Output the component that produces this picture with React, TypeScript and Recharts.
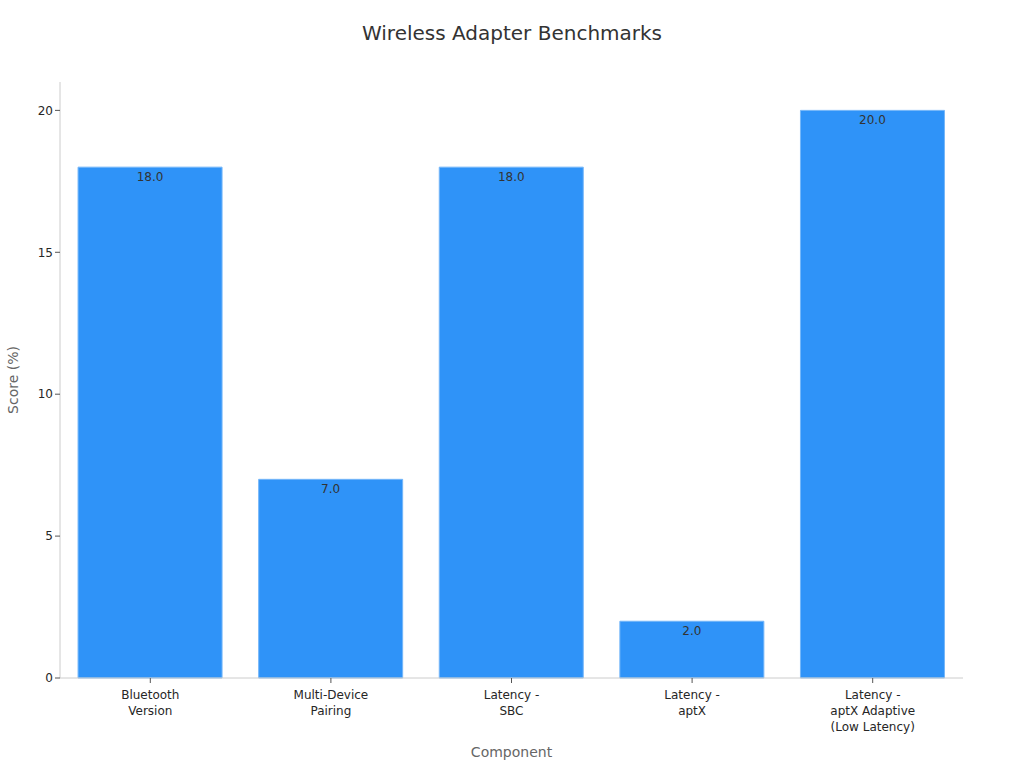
import { BarChart, Bar, XAxis, YAxis, LabelList } from 'recharts'

const categories = [
  'Bluetooth\nVersion',
  'Multi-Device\nPairing',
  'Latency -\nSBC',
  'Latency -\naptX',
  'Latency -\naptX Adaptive\n(Low Latency)',
]
const scores = [18, 7, 18, 2, 20]
const yTicks = [0, 5, 10, 15, 20]

const data = categories.map((name, i) => ({ name, score: scores[i] }))

const FONT = '"DejaVu Sans", sans-serif'

function CategoryTick(props: any) {
  const { x, y, payload } = props
  const lines = String(payload.value).split('\n')
  return (
    <g transform={`translate(${x},${y})`}>
      <text textAnchor="middle" fill="#262626" fontSize={12} fontFamily={FONT}>
        {lines.map((line, i) => (
          <tspan key={i} x={0} dy={i === 0 ? 14 : 16}>
            {line}
          </tspan>
        ))}
      </text>
    </g>
  )
}

export default function App() {
  return (
    <div style={{ position: 'absolute', left: 0, top: 0, width: 1024, height: 768, background: '#fff', fontFamily: FONT }}>
      <div
        style={{
          position: 'absolute',
          top: 21,
          width: 1024,
          textAlign: 'center',
          fontSize: 20,
          color: '#333',
        }}
      >
        Wireless Adapter Benchmarks
      </div>
      <BarChart
        width={1024}
        height={768}
        data={data}
        margin={{ top: 82, right: 61, left: 1, bottom: 0 }}
        barCategoryGap="10%"
      >
        <XAxis
          dataKey="name"
          interval={0}
          height={90}
          tick={<CategoryTick />}
          tickLine={{ stroke: '#555' }}
          tickSize={5}
          axisLine={{ stroke: '#ccc' }}
          label={{ value: 'Component', position: 'insideBottom', offset: 11, fill: '#666', fontSize: 14, fontFamily: FONT }}
        />
        <YAxis
          width={59}
          domain={[0, 21]}
          ticks={yTicks}
          tickSize={5}
          tickLine={{ stroke: '#555' }}
          axisLine={{ stroke: '#ccc' }}
          tick={{ fill: '#262626', fontSize: 12, fontFamily: FONT }}
          label={{ value: 'Score (%)', angle: -90, position: 'insideLeft', offset: 12, fill: '#666', fontSize: 14, fontFamily: FONT, style: { textAnchor: 'middle' } }}
        />
        <Bar dataKey="score" fill="#2f93f8" stroke="#74b6f9" strokeWidth={1} isAnimationActive={false}>
          <LabelList
            dataKey="score"
            position="insideTop"
            offset={5}
            formatter={(v: any) => Number(v).toFixed(1)}
            fill="#333"
            fontSize={12}
            fontFamily={FONT}
          />
        </Bar>
      </BarChart>
    </div>
  )
}
